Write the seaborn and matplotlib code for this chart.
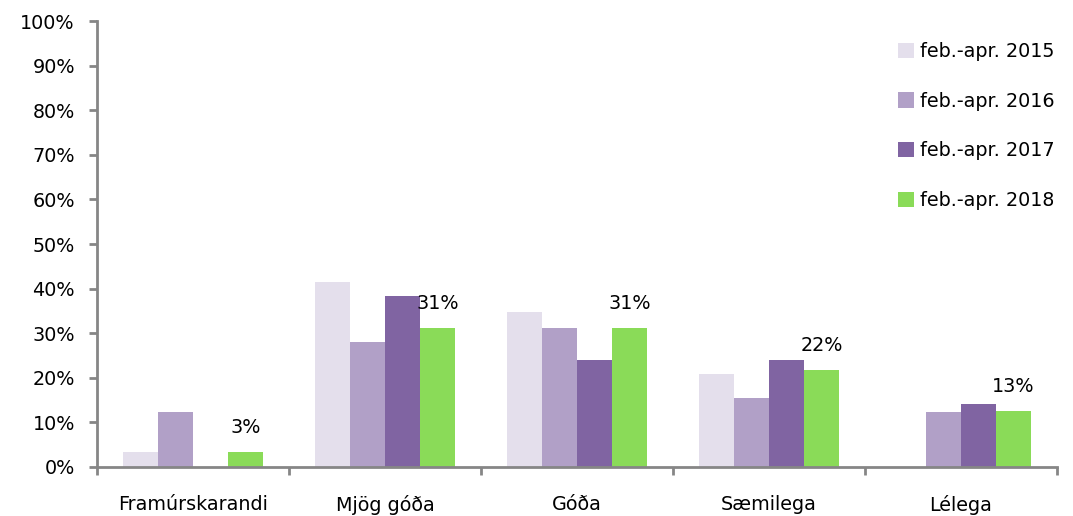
import pandas as pd
import numpy as np
import matplotlib
matplotlib.use("Agg")
import matplotlib.pyplot as plt
import seaborn as sns

# data (percent)
categories = ['Framúrskarandi', 'Mjög góða', 'Góða', 'Sæmilega', 'Lélega']
periods = ['feb.-apr. 2015', 'feb.-apr. 2016', 'feb.-apr. 2017', 'feb.-apr. 2018']
v2015 = [3.4, 41.5, 34.8, 20.9, 0.0]
v2016 = [12.3, 28.0, 31.2, 15.5, 12.3]
v2017 = [0.0, 38.3, 24.0, 24.0, 14.1]
v2018 = [3.4, 31.2, 31.2, 21.7, 12.6]

colors = ['#E4DFEC', '#B1A0C7', '#8064A2', '#8ADB58']
grey = '#868686'
font = 'DejaVu Sans'
fs = 13.8

df = pd.DataFrame({
    'cat': categories * 4,
    'period': np.repeat(periods, len(categories)),
    'val': v2015 + v2016 + v2017 + v2018,
})

sns.set_style('white')
plt.rcParams['font.family'] = [font]
plt.rcParams['text.color'] = 'black'

fig = plt.figure(figsize=(10.73, 5.16), dpi=100)
ax = fig.add_axes([0.0904, 0.095, 0.8946, 0.864])

sns.barplot(data=df, x='cat', y='val', hue='period', palette=colors,
            width=0.73, gap=0, saturation=1, linewidth=0, edgecolor='none',
            ax=ax, legend=True)

# labels on the 2018 series only
bars18 = ax.containers[3]
for b, v in zip(bars18, v2018):
    ax.annotate(f'{v:.0f}%', (b.get_x() + b.get_width() / 2, b.get_height()),
                xytext=(0, 11), textcoords='offset points', ha='center',
                va='bottom', fontsize=fs, color='black')

ax.set_ylim(0, 100)
ax.set_xlim(-0.5, 4.5)
ax.set_yticks(range(0, 101, 10))
ax.yaxis.set_major_formatter('{x:.0f}%')
ax.set_xticks(np.arange(-0.5, 5, 1), minor=True)
ax.tick_params(axis='x', which='major', length=0, pad=20, labelsize=fs, labelcolor='black')
ax.tick_params(axis='x', which='minor', length=6, width=2, color=grey, direction='out', bottom=True)
ax.tick_params(axis='y', length=6, width=2, color=grey, direction='out', left=True,
               labelsize=fs, pad=10, labelcolor='black')
sns.despine(ax=ax, top=True, right=True)
for s in ['left', 'bottom']:
    ax.spines[s].set_color(grey)
    ax.spines[s].set_linewidth(2)
ax.set_xlabel('')
ax.set_ylabel('')

leg = ax.legend(loc='upper left', bbox_to_anchor=(0.828, 0.937), bbox_transform=fig.transFigure,
                frameon=False, fontsize=fs, labelspacing=1.6, handlelength=0.85,
                handleheight=0.85, handletextpad=0.3, borderpad=0)
for t in leg.get_texts():
    t.set_color('black')

fig.savefig('out.png', dpi=100)
